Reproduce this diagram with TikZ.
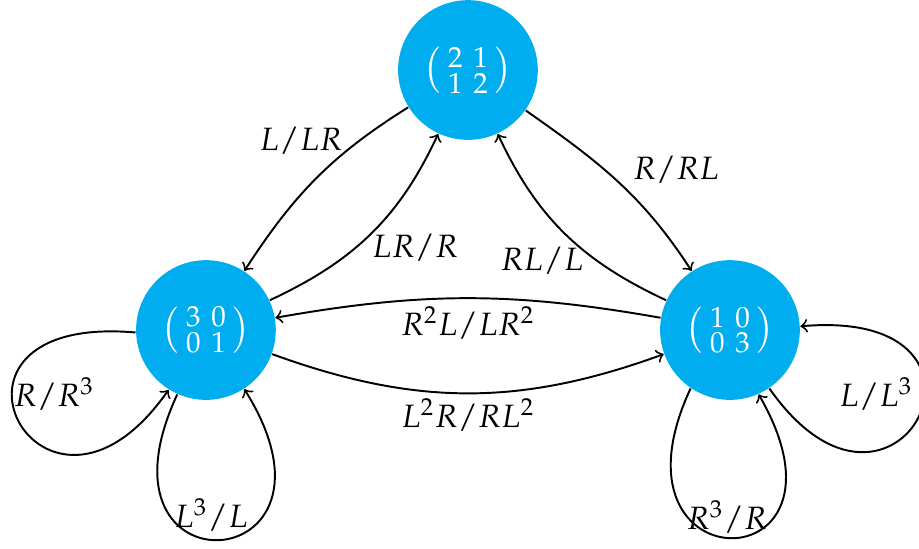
\documentclass[tikz,border=0pt]{standalone}
\usepackage{amsmath}
\usepackage{mathpazo}
\definecolor{nodeblue}{RGB}{0,174,239}
\tikzset{
	state/.style={circle, fill=nodeblue, text=white, minimum size=1.52cm, inner sep=0pt, font=\large},
	move/.style={->, semithick},
}
\newcommand{\mat}[4]{$\left(\begin{smallmatrix}#1 & #2\\ #3 & #4\end{smallmatrix}\right)$}
\begin{document}
\begin{tikzpicture}
	\useasboundingbox (0,0) rectangle (10,5.963);
	\node[state] (top) at (5.092,5.201) {\mat{2}{1}{1}{2}};
	\node[state] (lft) at (2.241,2.372) {\mat{3}{0}{0}{1}};
	\node[state] (rgt) at (7.943,2.372) {\mat{1}{0}{0}{3}};
	
	\draw[move] (top) to[out=212,in=57] (lft);
	\draw[move] (lft) to[out=25,in=245] (top);
	\draw[move] (top) to[out=325,in=123] (rgt);
	\draw[move] (rgt) to[out=155,in=295] (top);
	\draw[move] (rgt) to[out=170,in=10] (lft);
	\draw[move] (lft) to[out=340,in=200] (rgt);
	
	\draw[move] (lft.182) to[out=175,in=235,out distance=2.5cm,in distance=2.4cm] (lft.238);
	\draw[move] (lft.246) to[out=245,in=302,distance=2.45cm] (lft.303);
	\draw[move] (rgt.236) to[out=245,in=300,distance=2.4cm] (rgt.294);
	\draw[move] (rgt.304) to[out=305,in=5,out distance=2.4cm,in distance=2.5cm] (rgt.3);
	
	\node (tl) at (3.275,4.429) {$L/LR$};
	\node (lt) at (4.516,3.264) {$LR/R$};
	\node (rt) at (5.898,3.123) {$RL/L$};
	\node (tr) at (7.356,4.113) {$R/RL$};
	\node (rl) at (5.092,2.448) {$R^2L/LR^2$};
	\node (lr) at (5.092,1.447) {$L^2R/RL^2$};
	\node (ll1) at (0.588,1.676) {$R/R^3$};
	\node (ll2) at (2.296,0.359) {$L^3/L$};
	\node (rl1) at (9.532,1.676) {$L/L^3$};
	\node (rl2) at (7.911,0.337) {$R^3/R$};
\end{tikzpicture}
\end{document}
